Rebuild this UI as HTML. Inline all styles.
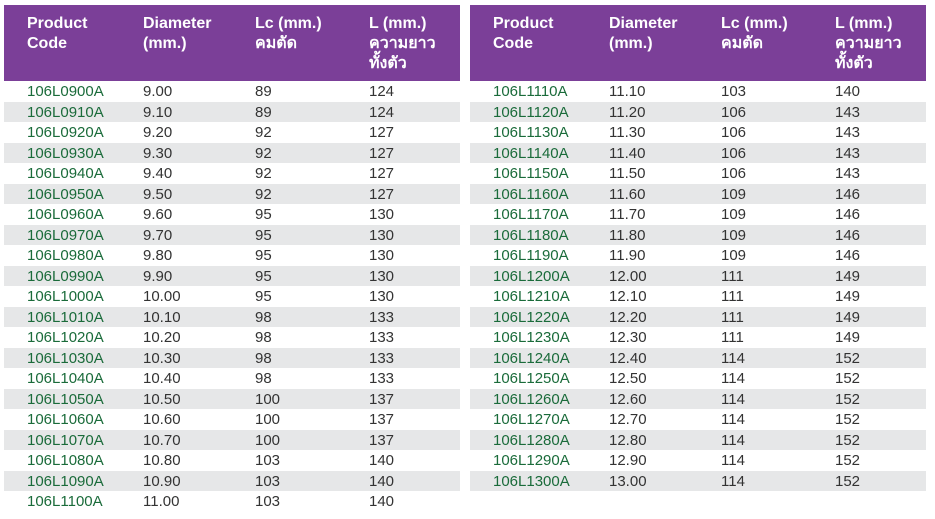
<!DOCTYPE html>
<html><head><meta charset="utf-8"><style>
body{margin:0;width:935px;height:519px;background:#fff;font-family:"Liberation Sans","DejaVu Sans",sans-serif;overflow:hidden;position:relative}
.t{position:absolute;top:5px;width:456px}
.h{background:#7b3f98;height:76px;position:relative;color:#fff;font-weight:bold;font-size:16px;line-height:20px}
.h div{position:absolute;top:9px}
.r{height:20.5px;position:relative;font-size:15px;color:#333;line-height:21.5px}
.r:nth-child(odd){background:#e6e7e8}
.r span{position:absolute;top:0}
.r span:first-child{color:#1a6b3a}
</style></head><body>
<div class="t" style="left:4px" id="a"><div class="h"><div style="left:23px">Product<br>Code</div><div style="left:139px">Diameter<br>(mm.)</div><div style="left:251px">Lc (mm.)<br>คมตัด</div><div style="left:365px">L (mm.)<br>ความยาว<br>ทั้งตัว</div></div></div>
<div class="t" style="left:470px" id="b"><div class="h"><div style="left:23px">Product<br>Code</div><div style="left:139px">Diameter<br>(mm.)</div><div style="left:251px">Lc (mm.)<br>คมตัด</div><div style="left:365px">L (mm.)<br>ความยาว<br>ทั้งตัว</div></div></div>
<script>
function lc(d){if(d<9.2)return 89;if(d<9.6)return 92;if(d<10.1)return 95;if(d<10.5)return 98;if(d<10.8)return 100;if(d<11.2)return 103;if(d<11.6)return 106;if(d<12)return 109;if(d<12.4)return 111;return 114}
var L={89:124,92:127,95:130,98:133,100:137,103:140,106:143,109:146,111:149,114:152};
function build(id,s,n){var el=document.getElementById(id),h='';for(var i=0;i<n;i++){var k=s+i*10,d=k/100;var c='106L'+String(k).padStart(4,'0')+'A';var l=lc(d+0.001);h+='<div class="r"><span style="left:23px">'+c+'</span><span style="left:139px">'+d.toFixed(2)+'</span><span style="left:251px">'+l+'</span><span style="left:365px">'+L[l]+'</span></div>';}el.insertAdjacentHTML('beforeend',h);}
build('a',900,21);build('b',1110,20);
</script>
</body></html>
